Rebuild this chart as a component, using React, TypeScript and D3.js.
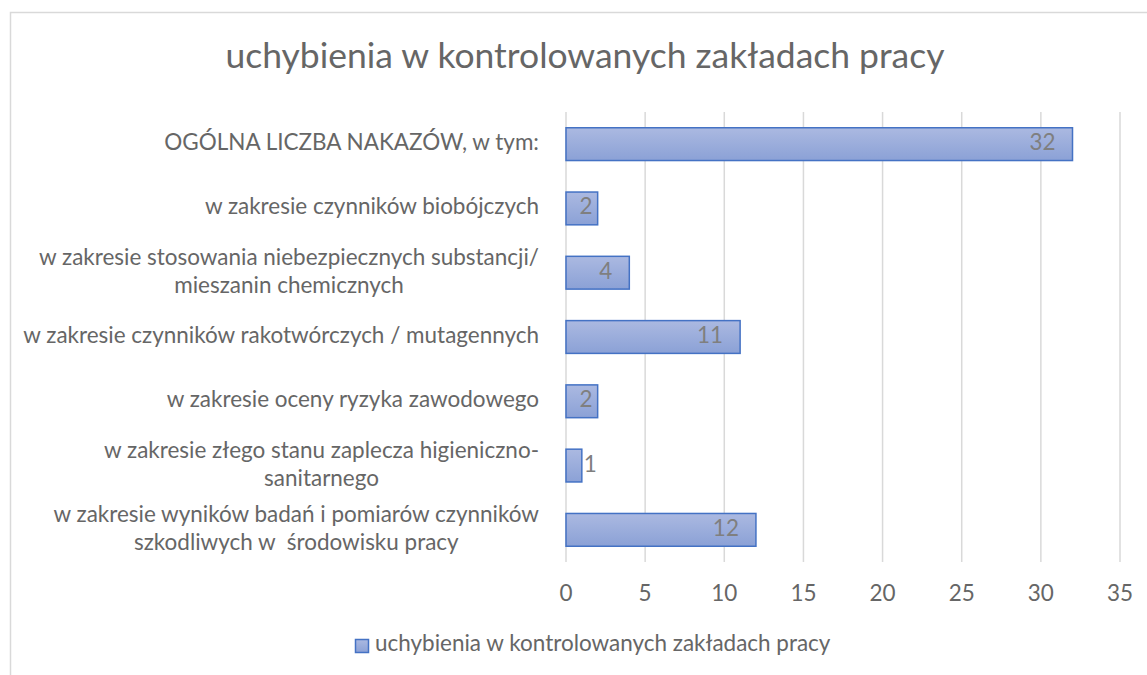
import { useEffect, useRef } from 'react'
import * as d3 from 'd3'

const SERIES_NAME = 'uchybienia w kontrolowanych zakładach pracy'
const TITLE = 'uchybienia w kontrolowanych zakładach pracy'

// each category split into the lines as they wrap in the picture
const CATEGORIES: string[][] = [
  ['OGÓLNA LICZBA NAKAZÓW, w tym:'],
  ['w zakresie czynników biobójczych'],
  ['w zakresie stosowania niebezpiecznych substancji/', 'mieszanin chemicznych'],
  ['w zakresie czynników rakotwórczych / mutagennych'],
  ['w zakresie oceny ryzyka zawodowego'],
  ['w zakresie złego stanu zaplecza higieniczno-', 'sanitarnego'],
  ['w zakresie wyników badań i pomiarów czynników', 'szkodliwych w  środowisku pracy'],
]
const VALUES = [32, 2, 4, 11, 2, 1, 12]
const X_TICKS = [0, 5, 10, 15, 20, 25, 30, 35]

const W = 1147
const H = 675
const FONT = 'Lato, "Open Sans", sans-serif'
const GREY = '#666666'

export default function App() {
  const ref = useRef<SVGSVGElement>(null)

  useEffect(() => {
    const svg = d3.select(ref.current)
    svg.selectAll('*').remove()

    // fit font sizes to the widths seen in the reference (Calibri not available)
    const measure = (txt: string, size: number) => {
      const t = svg.append('text').attr('font-family', FONT).attr('font-size', size).style('white-space', 'pre').text(txt)
      const w = (t.node() as SVGTextElement).getComputedTextLength()
      t.remove()
      return w
    }
    const labelSize = (100 * 516) / measure('w zakresie czynników rakotwórczych / mutagennych', 100)
    const titleSize = (100 * 719) / measure(TITLE, 100)

    const defs = svg.append('defs')
    const grad = defs.append('linearGradient').attr('id', 'barGrad').attr('x1', 0).attr('y1', 0).attr('x2', 0).attr('y2', 1)
    grad.append('stop').attr('offset', '0%').attr('stop-color', '#abb9e1')
    grad.append('stop').attr('offset', '100%').attr('stop-color', '#8ba1d6')

    svg.append('rect')
      .attr('x', 10.5).attr('y', 12.5)
      .attr('width', W).attr('height', H + 20)
      .attr('fill', '#ffffff').attr('stroke', '#d9d9d9').attr('stroke-width', 1.5)

    svg.append('text')
      .attr('x', 585).attr('y', 68)
      .attr('text-anchor', 'middle')
      .attr('font-family', FONT).attr('font-size', titleSize)
      .attr('fill', GREY)
      .text(TITLE)

    const idx = CATEGORIES.map((_, i) => String(i))
    const x = d3.scaleLinear().domain([0, 35]).range([566, 1120])
    const y = d3.scaleBand().domain(idx).range([112, 562]).paddingInner(0.49).paddingOuter(0.245)

    // gridlines
    svg.append('g').selectAll('line').data(X_TICKS).enter().append('line')
      .attr('x1', (d) => x(d)).attr('x2', (d) => x(d))
      .attr('y1', 112).attr('y2', 562)
      .attr('stroke', '#d9d9d9').attr('stroke-width', 1.5)

    // tick labels
    svg.append('g').selectAll('text').data(X_TICKS).enter().append('text')
      .attr('x', (d) => x(d)).attr('y', 601)
      .attr('text-anchor', 'middle')
      .attr('font-family', FONT).attr('font-size', labelSize)
      .attr('fill', GREY)
      .text((d) => d)

    // bars
    svg.append('g').selectAll('rect').data(VALUES).enter().append('rect')
      .attr('x', x(0))
      .attr('y', (_, i) => y(String(i))!)
      .attr('width', (d) => x(d) - x(0))
      .attr('height', y.bandwidth())
      .attr('fill', 'url(#barGrad)')
      .attr('stroke', '#4472c4').attr('stroke-width', 1.5)

    // data labels (inside end)
    VALUES.forEach((v, i) => {
      const cy = y(String(i))! + y.bandwidth() / 2
      const barW = x(v) - x(0)
      const tw = measure(String(v), labelSize)
      let lx = x(v) - 17
      let anchor = 'end'
      if (barW < tw + 10) {
        lx = x(v) + 2
        anchor = 'start'
      } else if (barW < 45) {
        lx = x(v) - 5
      }
      svg.append('text')
        .attr('x', lx).attr('y', cy + 6)
        .attr('text-anchor', anchor)
        .attr('font-family', FONT).attr('font-size', labelSize)
        .attr('fill', '#7f7f7f')
        .text(v)
    })

    // category labels: block right-aligned, lines centered in the block
    CATEGORIES.forEach((lines, i) => {
      const cy = y(String(i))! + y.bandwidth() / 2
      const wmax = d3.max(lines, (l) => measure(l, labelSize)) || 0
      const cx = 539 - wmax / 2
      const lh = 28
      lines.forEach((l, j) => {
        svg.append('text')
          .attr('x', cx)
          .attr('y', cy + 6 + (j - (lines.length - 1) / 2) * lh)
          .attr('text-anchor', 'middle')
          .attr('font-family', FONT).attr('font-size', labelSize)
          .attr('fill', GREY)
          .style('white-space', 'pre')
          .text(l)
      })
    })

    // legend
    const lg = svg.append('g')
    lg.append('rect')
      .attr('x', 355.5).attr('y', 639.5).attr('width', 13).attr('height', 13)
      .attr('fill', 'url(#barGrad)').attr('stroke', '#4472c4').attr('stroke-width', 1.5)
    lg.append('text')
      .attr('x', 375).attr('y', 651)
      .attr('font-family', FONT).attr('font-size', labelSize)
      .attr('fill', GREY)
      .text(SERIES_NAME)
  }, [])

  return (
    <svg
      ref={ref}
      width={W}
      height={H}
      viewBox={`0 0 ${W} ${H}`}
      style={{ position: 'absolute', left: 0, top: 0, background: '#ffffff' }}
    />
  )
}
